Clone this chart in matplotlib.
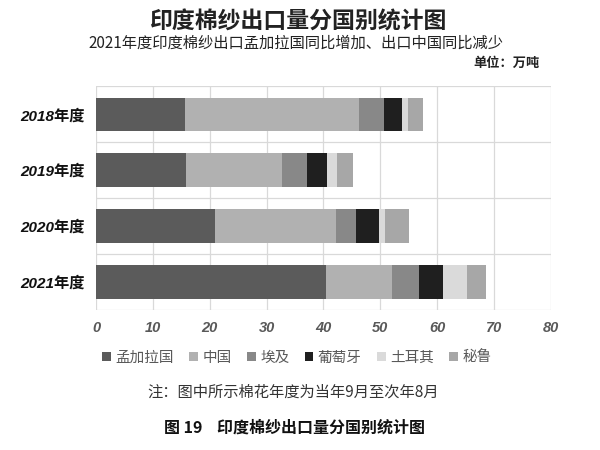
import matplotlib
matplotlib.use("Agg")
import matplotlib.pyplot as plt
from matplotlib.patches import Patch
import numpy as np

plt.rcParams["font.family"] = ["Noto Sans CJK SC", "DejaVu Sans"]

# ---------------------------------------------------------
# data (万吨)
# ---------------------------------------------------------
years = ["2018年度", "2019年度", "2020年度", "2021年度"]
countries = ["孟加拉国", "中国", "埃及", "葡萄牙", "土耳其", "秘鲁"]

bangladesh = [15.6, 15.8, 20.9, 40.4]
china = [30.6, 17.0, 21.3, 11.6]
egypt = [4.5, 4.3, 3.6, 4.9]
portugal = [3.1, 3.6, 3.9, 4.1]
turkey = [1.0, 1.7, 1.1, 4.2]
peru = [2.8, 2.8, 4.3, 3.4]

series = [bangladesh, china, egypt, portugal, turkey, peru]
colors = ["#5b5b5b", "#b1b1b1", "#888888", "#1f1f1f", "#dadada", "#a7a7a7"]

xticks = [0, 10, 20, 30, 40, 50, 60, 70, 80]

# ---------------------------------------------------------
# figure
# ---------------------------------------------------------
fig = plt.figure(figsize=(6, 4.5), dpi=100)
ax = fig.add_axes([0.16, 0.311, 0.758, 0.497])

ypos = np.arange(len(years))
left = np.zeros(len(years))
for vals, col in zip(series, colors):
    ax.barh(ypos, vals, left=left, height=0.6, color=col, zorder=3)
    left += np.array(vals)

ax.set_xlim(0, 80)
ax.set_ylim(len(years) - 0.5, -0.5)
ax.set_xticks(xticks)
ax.set_xticklabels([str(t) for t in xticks], family=["Liberation Sans", "DejaVu Sans"],
                   fontsize=10.5, fontweight="bold", fontstyle="italic", color="#595959")
ax.set_yticks(ypos)
ax.set_yticklabels(years, family=["Liberation Sans", "Noto Sans CJK SC"],
                   fontsize=11, fontweight="bold", fontstyle="italic", color="#111111")
ax.tick_params(length=0, pad=8)

# grid: vertical every 10, horizontal between categories
for t in xticks:
    ax.axvline(t, color="#d9d9d9", lw=0.9, zorder=1)
for b in np.arange(-0.5, len(years), 1.0):
    ax.axhline(b, color="#d9d9d9", lw=0.9, zorder=1)
for s in ax.spines.values():
    s.set_visible(False)

# titles
fig.text(0.497, 0.952, "印度棉纱出口量分国别统计图", ha="center", va="center",
         fontsize=16.5, fontweight="bold", color="#222222")
fig.text(0.493, 0.903, "2021年度印度棉纱出口孟加拉国同比增加、出口中国同比减少",
         ha="center", va="center", fontsize=11, color="#222222")
fig.text(0.9, 0.861, "单位：万吨", ha="right", va="center",
         fontsize=9.5, fontweight="bold", color="#222222")

# legend
handles = [Patch(facecolor=c, edgecolor="none") for c in colors]
fig.legend(handles, countries, loc="center", bbox_to_anchor=(0.495, 0.205), ncol=6,
           frameon=False, fontsize=10.5, handlelength=0.6, handleheight=0.6,
           handletextpad=0.3, columnspacing=1.05, labelcolor="#595959")

# notes
fig.text(0.245, 0.128, "注：图中所示棉花年度为当年9月至次年8月", ha="left", va="center",
         fontsize=11, color="#333333")
fig.text(0.49, 0.049, "图 19    印度棉纱出口量分国别统计图", ha="center", va="center",
         fontsize=11.5, fontweight="bold", color="#111111")

fig.savefig("out.png", dpi=100, facecolor="white")
